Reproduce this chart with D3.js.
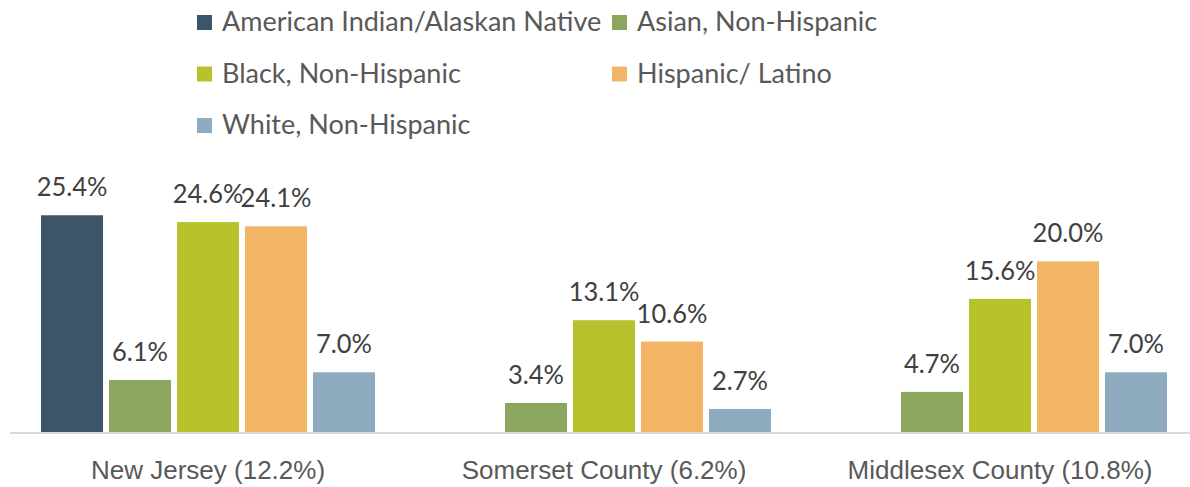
<!DOCTYPE html>
<html>
<head>
<meta charset="utf-8">
<script src="https://cdn.jsdelivr.net/npm/d3@7"></script>
<style>
  html, body { margin: 0; padding: 0; background: #fff; }
  svg { display: block; font-family: Lato, "Open Sans", sans-serif; }
</style>
</head>
<body>
<div id="chart"></div>
<script>
// ---- data ----
const groups = ['New Jersey (12.2%)', 'Somerset County (6.2%)', 'Middlesex County (10.8%)'];
const seriesNames = ['American Indian/Alaskan Native', 'Asian, Non-Hispanic', 'Black, Non-Hispanic', 'Hispanic/ Latino', 'White, Non-Hispanic'];
const seriesColors = ['#3d5568', '#8ba65e', '#b8c22c', '#f2b566', '#8eabbf'];
// values per series, one per group (null = no bar)
const amIndian = [25.4, null, null];
const asian = [6.1, 3.4, 4.7];
const black = [24.6, 13.1, 15.6];
const hispanic = [24.1, 10.6, 20.0];
const white = [7.0, 2.7, 7.0];
const seriesValues = [amIndian, asian, black, hispanic, white];

const W = 1190, H = 487;

const svg = d3.select('#chart').append('svg')
  .attr('width', W)
  .attr('height', H);

const x0 = d3.scaleBand()
  .domain(groups)
  .range([10, 1198])
  .padding(0);

const x1 = d3.scaleBand()
  .domain(seriesNames)
  .range([0, x0.bandwidth()])
  .paddingInner(0.088)
  .paddingOuter(0.456);

const y = d3.scaleLinear()
  .domain([0, 30])
  .range([432, 176]);

function addText(parent, x, yy, str, size, color, anchor, sx) {
  return parent.append('text')
    .attr('transform', `translate(${x},${yy}) scale(${sx || 1},1)`)
    .attr('text-anchor', anchor || 'middle')
    .style('font-size', size + 'px')
    .style('fill', color)
    .text(str);
}

// bars
const flat = [];
seriesNames.forEach((s, si) => {
  groups.forEach((g, gi) => {
    const v = seriesValues[si][gi];
    if (v != null) flat.push({ group: g, series: s, value: v, color: seriesColors[si] });
  });
});

svg.selectAll('.bar')
  .data(flat)
  .join('rect')
  .attr('class', 'bar')
  .attr('x', d => x0(d.group) + x1(d.series))
  .attr('y', d => y(d.value))
  .attr('width', x1.bandwidth())
  .attr('height', d => y(0) - y(d.value))
  .attr('fill', d => d.color);

// value labels
flat.forEach(d => {
  addText(svg, x0(d.group) + x1(d.series) + x1.bandwidth() / 2, y(d.value) - 19,
    d.value.toFixed(1) + '%', 26, '#404040', 'middle', 0.98);
});

// baseline
svg.append('line')
  .attr('x1', 10).attr('x2', W)
  .attr('y1', y(0) + 1).attr('y2', y(0) + 1)
  .attr('stroke', '#d9d9d9')
  .attr('stroke-width', 2);

// category labels
const xAxis = d3.axisBottom(x0).tickSize(0).tickPadding(0);
const axisG = svg.append('g')
  .attr('transform', `translate(0,${y(0)})`)
  .call(xAxis);
axisG.select('.domain').remove();
axisG.selectAll('.tick text').remove();
axisG.selectAll('.tick').each(function (d) {
  addText(d3.select(this), 0, 47, d, 26, '#595959', 'middle', 1);
});

// legend
const legendPos = [[197, 15], [612, 15], [197, 66.5], [612, 66.5], [197, 118]];
seriesNames.forEach((s, i) => {
  const g = svg.append('g')
    .attr('transform', `translate(${legendPos[i][0]},${legendPos[i][1]})`);
  g.append('rect')
    .attr('width', 15)
    .attr('height', 15)
    .attr('fill', seriesColors[i]);
  addText(g, 25, 16, s, 27, '#595959', 'start', 1);
});
</script>
</body>
</html>
